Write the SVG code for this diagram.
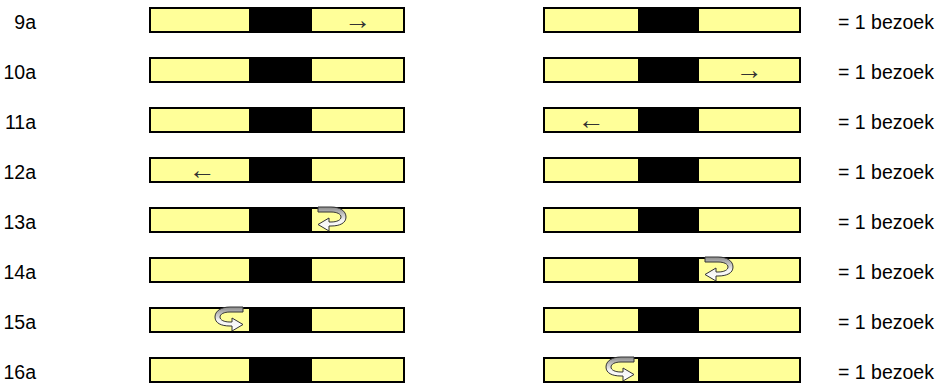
<svg xmlns="http://www.w3.org/2000/svg" width="945" height="385" viewBox="0 0 945 385">
<style>
.y{fill:#FFFF99;stroke:#000;stroke-width:2}
.k{fill:#000}
.t{font-family:"Liberation Sans",Arial,sans-serif;font-size:19.5px;fill:#000}
.a{font-family:"Liberation Sans",Arial,"DejaVu Sans",sans-serif;font-size:27px;fill:#333}
.u{fill:url(#g);stroke:#333;stroke-width:1;stroke-linejoin:round}
</style>
<defs>
<linearGradient id="g" x1="0" y1="0" x2="0" y2="1">
<stop offset="0" stop-color="#8a8a8a"/>
<stop offset="0.55" stop-color="#f4f4f4"/>
<stop offset="1" stop-color="#ffffff"/>
</linearGradient>
<path id="turn" class="u" d="M0,0 L13,0 C22,0 28,4 28,10 C28,16 22,19 13,19 L11,19 L11,24 L0,17.5 L11,11 L11,15 L13,15 C19,15 23,13 23,10 C23,7 19,5 13,5 L0,5 Z"/>
<g id="bar">
<rect class="k" x="250" y="7" width="61" height="26"/>
<rect class="y" x="150" y="8" width="100" height="24"/>
<rect class="y" x="311" y="8" width="93" height="24"/>
<rect class="k" x="639" y="7" width="59" height="26"/>
<rect class="y" x="544" y="8" width="95" height="24"/>
<rect class="y" x="698" y="8" width="102" height="24"/>
</g>
</defs>
<g id="row-9a">
<use href="#bar"/>
<text class="t" x="36" y="29" text-anchor="end">9a</text>
<text class="a" x="357.5" y="28.5" text-anchor="middle">→</text>
<text class="t" x="838" y="29">= 1 bezoek</text>
</g>
<g id="row-10a" transform="translate(0,50)">
<use href="#bar"/>
<text class="t" x="36" y="29" text-anchor="end">10a</text>
<text class="a" x="749" y="28.5" text-anchor="middle">→</text>
<text class="t" x="838" y="29">= 1 bezoek</text>
</g>
<g id="row-11a" transform="translate(0,100)">
<use href="#bar"/>
<text class="t" x="36" y="29" text-anchor="end">11a</text>
<text class="a" x="591" y="28.5" text-anchor="middle">←</text>
<text class="t" x="838" y="29">= 1 bezoek</text>
</g>
<g id="row-12a" transform="translate(0,150)">
<use href="#bar"/>
<text class="t" x="36" y="29" text-anchor="end">12a</text>
<text class="a" x="202" y="28.5" text-anchor="middle">←</text>
<text class="t" x="838" y="29">= 1 bezoek</text>
</g>
<g id="row-13a" transform="translate(0,200)">
<use href="#bar"/>
<text class="t" x="36" y="29" text-anchor="end">13a</text>
<use href="#turn" transform="translate(318,7)"/>
<text class="t" x="838" y="29">= 1 bezoek</text>
</g>
<g id="row-14a" transform="translate(0,250)">
<use href="#bar"/>
<text class="t" x="36" y="29" text-anchor="end">14a</text>
<use href="#turn" transform="translate(705,7)"/>
<text class="t" x="838" y="29">= 1 bezoek</text>
</g>
<g id="row-15a" transform="translate(0,300)">
<use href="#bar"/>
<text class="t" x="36" y="29" text-anchor="end">15a</text>
<use href="#turn" transform="translate(243,7) scale(-1,1)"/>
<text class="t" x="838" y="29">= 1 bezoek</text>
</g>
<g id="row-16a" transform="translate(0,350)">
<use href="#bar"/>
<text class="t" x="36" y="29" text-anchor="end">16a</text>
<use href="#turn" transform="translate(634,7) scale(-1,1)"/>
<text class="t" x="838" y="29">= 1 bezoek</text>
</g>
<g id="connectors"/>
</svg>
